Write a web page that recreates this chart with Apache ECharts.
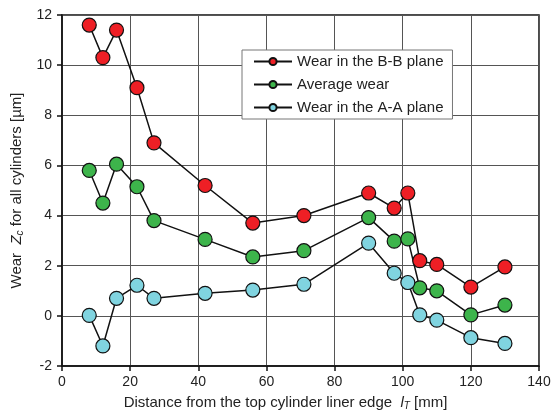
<!DOCTYPE html>
<html>
<head>
<meta charset="utf-8">
<script src="https://cdn.jsdelivr.net/npm/echarts@6/dist/echarts.min.js"></script>
<style>
html,body{margin:0;padding:0;background:#fff;}
#chart{width:559px;height:418px;}
</style>
</head>
<body>
<div id="chart"></div>
<script>
// Distance from the top cylinder liner edge, mm
const distance = [8, 12, 16, 22, 27, 42, 56, 71, 90, 97.5, 101.5, 105, 110, 120, 130];
// Wear values, µm
const wearBB = [11.6, 10.3, 11.4, 9.1, 6.9, 5.2, 3.7, 4.0, 4.9, 4.3, 4.9, 2.2, 2.05, 1.15, 1.95];
const wearAvg = [5.8, 4.5, 6.05, 5.15, 3.8, 3.05, 2.35, 2.6, 3.92, 2.98, 3.07, 1.12, 1.0, 0.04, 0.43];
const wearAA = [0.02, -1.2, 0.7, 1.22, 0.7, 0.9, 1.03, 1.26, 2.9, 1.7, 1.33, 0.04, -0.17, -0.87, -1.1];

const seriesNames = ['Wear in the B-B plane', 'Average wear', 'Wear in the A-A plane'];
const seriesColors = ['#ee1f25', '#3db44b', '#80d4e0'];

const font = 'Liberation Sans, Arial, sans-serif';
const textColor = '#222';
const pair = (xs, ys) => xs.map((x, i) => [x, ys[i]]);

function lineSeries(name, color, values) {
  return {
    name: name,
    type: 'line',
    data: pair(distance, values),
    symbol: 'circle',
    symbolSize: 14,
    lineStyle: { color: '#111', width: 1.5 },
    itemStyle: { color: color, borderColor: '#111', borderWidth: 1.2 },
    emphasis: { disabled: true },
    animation: false
  };
}

const richParts = {
  i: { fontFamily: font, fontSize: 15, fontStyle: 'italic', color: textColor },
  sub: { fontFamily: font, fontSize: 10, fontStyle: 'italic', color: textColor, padding: [7, 0, 0, 0] }
};

const chart = echarts.init(document.getElementById('chart'), null, { renderer: 'canvas' });
chart.setOption({
  backgroundColor: '#fff',
  animation: false,
  grid: {
    left: 62, right: 20, top: 15, bottom: 52, containLabel: false,
    show: true, borderColor: '#111', borderWidth: 1.5, backgroundColor: 'transparent'
  },
  legend: {
    orient: 'vertical',
    left: 242,
    top: 50,
    padding: [3, 9, 3, 11],
    itemGap: 6,
    itemWidth: 38,
    itemHeight: 9,
    backgroundColor: '#fff',
    borderColor: '#777',
    borderWidth: 1,
    textStyle: { fontFamily: font, fontSize: 15, color: textColor, lineHeight: 17 },
    data: seriesNames
  },
  xAxis: {
    type: 'value',
    min: 0, max: 140, interval: 20,
    name: 'Distance from the top cylinder liner edge  {i|l}{sub|T} [mm]',
    nameLocation: 'middle',
    nameGap: 28,
    nameTextStyle: {
      fontFamily: font, fontSize: 15, color: textColor, rich: richParts,
      padding: [0, 30, 0, 0]
    },
    axisLine: { show: true, onZero: false, lineStyle: { color: '#111', width: 1.5 } },
    axisTick: { show: true, length: 5, lineStyle: { color: '#111', width: 1.5 } },
    axisLabel: { fontFamily: font, fontSize: 14, color: textColor, margin: 9 },
    splitLine: { show: true, lineStyle: { color: '#555', width: 1 } }
  },
  yAxis: {
    type: 'value',
    min: -2, max: 12, interval: 2,
    name: 'Wear  {i|Z}{sub|c} for all cylinders [\u00b5m]',
    nameLocation: 'middle',
    nameRotate: 90,
    nameGap: 37,
    nameTextStyle: { fontFamily: font, fontSize: 15, color: textColor, rich: richParts },
    axisLine: { show: true, onZero: false, lineStyle: { color: '#111', width: 1.5 } },
    axisTick: { show: true, length: 5, lineStyle: { color: '#111', width: 1.5 } },
    axisLabel: { fontFamily: font, fontSize: 14, color: textColor, margin: 10 },
    splitLine: { show: true, lineStyle: { color: '#555', width: 1 } }
  },
  series: [
    lineSeries(seriesNames[0], seriesColors[0], wearBB),
    lineSeries(seriesNames[1], seriesColors[1], wearAvg),
    lineSeries(seriesNames[2], seriesColors[2], wearAA)
  ]
});
</script>
</body>
</html>
